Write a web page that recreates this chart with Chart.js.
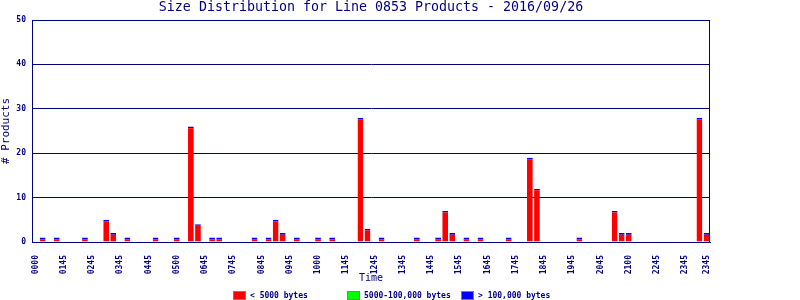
<!DOCTYPE html>
<html>
<head>
<meta charset="utf-8">
<script src="https://cdn.jsdelivr.net/npm/chart.js@4.4.0/dist/chart.umd.min.js"></script>
<style>
    html, body { margin: 0; padding: 0; background: #ffffff; }
    #wrap { width: 800px; height: 300px; }
</style>
</head>
<body>
<div id="wrap"><canvas id="sizeChart" width="800" height="300"></canvas></div>
<script>
const chartTitle = 'Size Distribution for Line 0853 Products - 2016/09/26';

// ラベルは4スロットごと + 最後のスロット
const tickLabels = ['0000', '0145', '0245', '0345', '0445', '0500', '0645', '0745', '0845', '0945',
    '1000', '1145', '1245', '1345', '1445', '1545', '1645', '1745', '1845', '1945',
    '2045', '2100', '2245', '2345', '2345'];
const tickSlots = [0, 4, 8, 12, 16, 20, 24, 28, 32, 36, 40, 44, 48, 52, 56, 60, 64, 68, 72, 76,
    80, 84, 88, 92, 95];

const seriesNames = ['< 5000 bytes', '5000-100,000 bytes', '> 100,000 bytes'];

// 96スロット (15分ごと)
const smallCounts = [
    0, 1, 0, 1, 0, 0, 0, 1, 0, 0, 5, 2, 0, 1, 0, 0,
    0, 1, 0, 0, 1, 0, 26, 4, 0, 1, 1, 0, 0, 0, 0, 1,
    0, 1, 5, 2, 0, 1, 0, 0, 1, 0, 1, 0, 0, 0, 28, 3,
    0, 1, 0, 0, 0, 0, 1, 0, 0, 1, 7, 2, 0, 1, 0, 1,
    0, 0, 0, 1, 0, 0, 19, 12, 0, 0, 0, 0, 0, 1, 0, 0,
    0, 0, 7, 2, 2, 0, 0, 0, 0, 0, 0, 0, 0, 0, 28, 2
];
const mediumCounts = [
    0, 0, 0, 0, 0, 0, 0, 0, 0, 0, 0, 0, 0, 0, 0, 0,
    0, 0, 0, 0, 0, 0, 0, 0, 0, 0, 0, 0, 0, 0, 0, 0,
    0, 0, 0, 0, 0, 0, 0, 0, 0, 0, 0, 0, 0, 0, 0, 0,
    0, 0, 0, 0, 0, 0, 0, 0, 0, 0, 0, 0, 0, 0, 0, 0,
    0, 0, 0, 0, 0, 0, 0, 0, 0, 0, 0, 0, 0, 0, 0, 0,
    0, 0, 0, 0, 0, 0, 0, 0, 0, 0, 0, 0, 0, 0, 0, 0
];
const largeCounts = [
    0, 0, 0, 0, 0, 0, 0, 0, 0, 0, 0, 0, 0, 0, 0, 0,
    0, 0, 0, 0, 0, 0, 0, 0, 0, 0, 0, 0, 0, 0, 0, 0,
    0, 0, 0, 0, 0, 0, 0, 0, 0, 0, 0, 0, 0, 0, 0, 0,
    0, 0, 0, 0, 0, 0, 0, 0, 0, 0, 0, 0, 0, 0, 0, 0,
    0, 0, 0, 0, 0, 0, 0, 0, 0, 0, 0, 0, 0, 0, 0, 0,
    0, 0, 0, 0, 0, 0, 0, 0, 0, 0, 0, 0, 0, 0, 0, 0
];

const slots = smallCounts.map((_, i) => i);

const NAVY = '#000080';
const MONO = '"DejaVu Sans Mono", "Liberation Mono", monospace';

// 枠線・タイトル・凡例
const frameAndText = {
    id: 'frameAndText',
    afterDraw(chart) {
        const { ctx, chartArea: a } = chart;
        ctx.save();
        ctx.strokeStyle = NAVY;
        ctx.lineWidth = 1;
        ctx.strokeRect(a.left + 0.5, a.top + 0.5, a.right - a.left - 1, a.bottom - a.top);

        ctx.fillStyle = NAVY;
        ctx.font = '13.3px ' + MONO;
        ctx.textAlign = 'center';
        ctx.textBaseline = 'middle';
        ctx.fillText(chartTitle, (a.left + a.right) / 2, 8);

        // 凡例
        ctx.font = 'bold 8px ' + MONO;
        ctx.textAlign = 'left';
        const startX = chart.width / 2 - 167;
        chart.data.datasets.forEach((ds, i) => {
            const x = startX + i * 114;
            ctx.fillStyle = ds.backgroundColor;
            ctx.fillRect(x, 291, 12, 8);
            ctx.strokeStyle = '#808080';
            ctx.strokeRect(x + 0.5, 291.5, 12, 8);
            ctx.fillStyle = NAVY;
            ctx.fillText(ds.label, x + 17, 295.5);
        });
        ctx.restore();
    }
};

const ctx = document.getElementById('sizeChart').getContext('2d');
new Chart(ctx, {
    type: 'bar',
    data: {
        labels: slots,
        datasets: [
            {
                label: seriesNames[0],
                data: smallCounts,
                backgroundColor: '#ff0000',
                borderColor: '#0000ff',
                borderWidth: { top: 1.6, left: 0, right: 0, bottom: 0 },
                inflateAmount: 0
            },
            {
                label: seriesNames[1],
                data: mediumCounts,
                backgroundColor: '#00ff00',
                borderWidth: 0,
                inflateAmount: 0
            },
            {
                label: seriesNames[2],
                data: largeCounts,
                backgroundColor: '#0000ff',
                borderWidth: 0,
                inflateAmount: 0
            }
        ]
    },
    options: {
        responsive: false,
        animation: false,
        datasets: { bar: { barPercentage: 0.82, categoryPercentage: 1 } },
        layout: { padding: { top: 20, right: 90, bottom: 0, left: 0 } },
        plugins: {
            legend: { display: false },
            title: { display: false },
            tooltip: { enabled: false }
        },
        scales: {
            x: {
                stacked: true,
                afterFit: scale => { scale.height = 58; },
                grid: { display: false },
                border: { color: NAVY, width: 1 },
                ticks: {
                    autoSkip: false,
                    minRotation: 90,
                    maxRotation: 90,
                    padding: 5,
                    color: NAVY,
                    font: { family: MONO, size: 8, weight: 'bold' },
                    callback: (val, idx) => {
                        const k = tickSlots.indexOf(idx);
                        return k >= 0 ? tickLabels[k] : '';
                    }
                },
                title: {
                    display: true,
                    text: 'Time',
                    color: NAVY,
                    font: { family: MONO, size: 10 },
                    padding: { top: 0, bottom: 16 }
                }
            },
            y: {
                stacked: true,
                min: 0,
                max: 50,
                afterFit: scale => { scale.width = 32; },
                grid: { color: NAVY, lineWidth: 1, drawTicks: false },
                border: { color: NAVY, width: 1 },
                ticks: {
                    stepSize: 10,
                    padding: 6,
                    color: NAVY,
                    font: { family: MONO, size: 8, weight: 'bold' }
                },
                title: {
                    display: true,
                    text: '# Products',
                    color: NAVY,
                    font: { family: MONO, size: 11 },
                    padding: 0
                }
            }
        }
    },
    plugins: [frameAndText]
});
</script>
</body>
</html>
